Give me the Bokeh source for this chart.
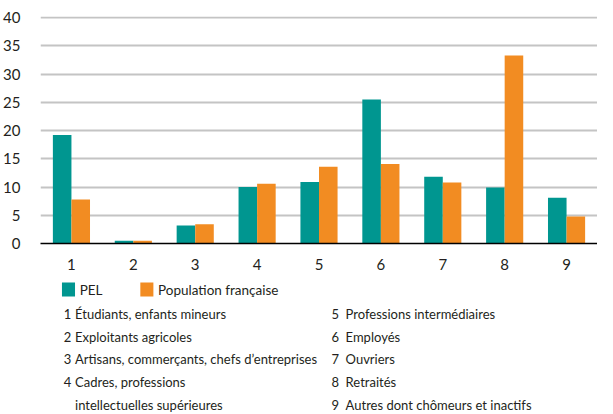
from bokeh.plotting import figure
from bokeh.layouts import column
from bokeh.models import ColumnDataSource, FactorRange, Range1d, FixedTicker
from bokeh.transform import dodge
from bokeh.core.properties import value
from bokeh.embed import file_html
from bokeh.resources import INLINE

categories = ["1", "2", "3", "4", "5", "6", "7", "8", "9"]
pel = [19.2, 0.5, 3.2, 10.0, 10.9, 25.5, 11.8, 9.9, 8.1]
population = [7.8, 0.5, 3.4, 10.6, 13.6, 14.1, 10.8, 33.3, 4.8]
series_names = ["PEL", "Population française"]
y_ticks = [0, 5, 10, 15, 20, 25, 30, 35, 40]
left_nums = ["1", "2", "3", "4", ""]
left_texts = ["Étudiants, enfants mineurs", "Exploitants agricoles",
              "Artisans, commerçants, chefs d’entreprises", "Cadres, professions",
              "intellectuelles supérieures"]
right_nums = ["5", "6", "7", "8", "9"]
right_texts = ["Professions intermédiaires", "Employés", "Ouvriers",
               "Retraités", "Autres dont chômeurs et inactifs"]

TEAL = "#009690"
ORANGE = "#F28C22"
FONT = "Lato, Roboto, sans-serif"
TXT = "#231f20"

src = ColumnDataSource(dict(cat=categories, pel=pel, pop=population))

p = figure(x_range=FactorRange(*categories, range_padding=0), y_range=Range1d(0, 40.2),
           width=597, height=272, output_backend="svg", toolbar_location=None,
           min_border_left=29, min_border_right=0, min_border_top=16, min_border_bottom=28)
p.outline_line_color = None
p.vbar(x=dodge("cat", -0.15, range=p.x_range), top="pel", width=0.3, source=src,
       fill_color=TEAL, line_color=None)
p.vbar(x=dodge("cat", 0.15, range=p.x_range), top="pop", width=0.3, source=src,
       fill_color=ORANGE, line_color=None)

p.xgrid.grid_line_color = None
p.ygrid.grid_line_color = "#c4c4c4"
p.ygrid.grid_line_width = 2
p.yaxis.ticker = FixedTicker(ticks=y_ticks)
p.yaxis.axis_line_color = None
p.yaxis.major_tick_line_color = None
p.yaxis.minor_tick_line_color = None
p.yaxis.major_label_standoff = 14
p.xaxis.axis_line_color = "#000000"
p.xaxis.axis_line_width = 1.5
p.xaxis.major_tick_line_color = None
p.xaxis.minor_tick_line_color = None
p.xaxis.major_label_standoff = 9
for ax in (p.xaxis, p.yaxis):
    ax.major_label_text_font = FONT
    ax.major_label_text_font_size = "15px"
    ax.major_label_text_color = TXT

# legend / key panel
H2 = 142
q = figure(x_range=Range1d(0, 597), y_range=Range1d(H2, 0), width=597, height=H2,
           output_backend="svg", toolbar_location=None, min_border=0)
q.axis.visible = False
q.grid.visible = False
q.outline_line_color = None
q.rect(x=[30, 114], y=[17, 17], width=14, height=14, fill_color=[TEAL, ORANGE], line_color=None)
kw = dict(text_font=value(FONT), text_font_size="13.5px", text_baseline="middle", text_color=TXT)
q.text(x=[42, 126], y=[17, 17], text=series_names, **kw)
ys = [41, 64, 86, 109, 132]
kw = dict(text_font=value(FONT), text_font_size="13px", text_baseline="middle", text_color=TXT)
q.text(x=[25] * 5, y=ys, text=left_nums, **kw)
q.text(x=[37] * 5, y=ys, text=left_texts, **kw)
q.text(x=[312] * 5, y=ys, text=right_nums, **kw)
q.text(x=[327] * 5, y=ys, text=right_texts, **kw)

layout = column(p, q, spacing=0)
open("out.html", "w").write(file_html(layout, INLINE))
